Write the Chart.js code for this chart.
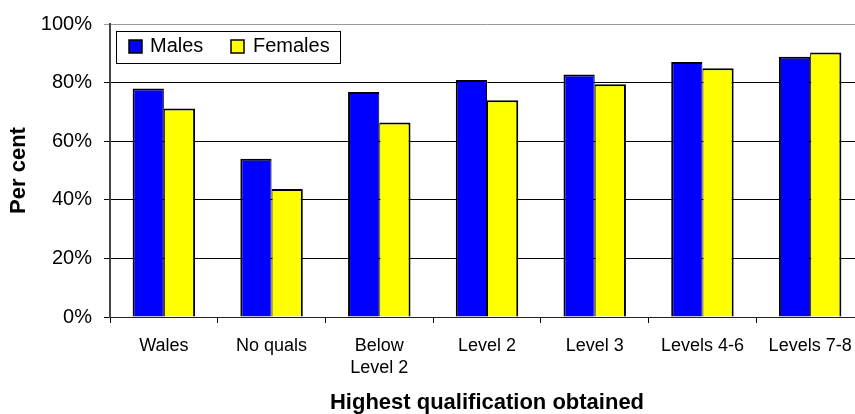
<!DOCTYPE html>
<html>
<head>
<meta charset="utf-8">
<script src="https://cdn.jsdelivr.net/npm/chart.js@4/dist/chart.umd.min.js"></script>
<style>
  html, body { margin: 0; padding: 0; background: #fff; overflow: hidden; }
  #wrap { width: 855px; height: 414px; overflow: hidden; position: relative; }
  canvas { display: block; }
</style>
</head>
<body>
<div id="wrap"><canvas id="c" width="866" height="414" style="width:866px;height:414px"></canvas></div>
<script>
const categories = ['Wales', 'No quals', ['Below', 'Level 2'], 'Level 2', 'Level 3', 'Levels 4-6', 'Levels 7-8'];
const males = [78.0, 54.0, 76.8, 80.9, 82.8, 87.0, 88.8];
const females = [71.2, 43.7, 66.4, 74.0, 79.4, 84.9, 90.3];
const yTicks = [0, 20, 40, 60, 80, 100];
const seriesNames = ['Males', 'Females'];
const xTitle = 'Highest qualification obtained';
const yTitle = 'Per cent';

const FONT = "'Liberation Sans', Arial, sans-serif";

const legendPlugin = {
  id: 'insideLegend',
  afterDraw(chart) {
    const ctx = chart.ctx;
    const a = chart.chartArea;
    const bx = a.left + 6, by = a.top + 7, bw = 225, bh = 33;
    ctx.save();
    ctx.fillStyle = '#fff';
    ctx.fillRect(bx, by, bw, bh);
    ctx.strokeStyle = '#000';
    ctx.lineWidth = 1;
    ctx.strokeRect(bx + 0.5, by + 0.5, bw - 1, bh - 1);
    const items = [
      { sx: bx + 13, tx: bx + 34 },
      { sx: bx + 115, tx: bx + 137 }
    ];
    chart.data.datasets.forEach((ds, i) => {
      const it = items[i];
      ctx.fillStyle = ds.backgroundColor;
      ctx.fillRect(it.sx, by + 9, 13, 13);
      ctx.lineWidth = 1.5;
      ctx.strokeStyle = '#000';
      ctx.strokeRect(it.sx, by + 9, 13, 13);
      ctx.fillStyle = '#000';
      ctx.font = '20px ' + FONT;
      ctx.textBaseline = 'alphabetic';
      ctx.textAlign = 'left';
      ctx.fillText(ds.label, it.tx, by + 21);
    });
    ctx.restore();
  }
};

new Chart(document.getElementById('c'), {
  type: 'bar',
  data: {
    labels: categories,
    datasets: [
      {
        label: seriesNames[0],
        data: males,
        backgroundColor: '#0000ff',
        borderColor: '#000',
        borderWidth: { top: 2, left: 2, right: 1, bottom: 0 },
        borderSkipped: false,
        categoryPercentage: 0.58,
        barPercentage: 1.0
      },
      {
        label: seriesNames[1],
        data: females,
        backgroundColor: '#ffff00',
        borderColor: '#000',
        borderWidth: { top: 2, left: 1, right: 2, bottom: 0 },
        borderSkipped: false,
        categoryPercentage: 0.58,
        barPercentage: 1.0
      }
    ]
  },
  options: {
    responsive: false,
    animation: false,
    devicePixelRatio: 1,
    layout: { padding: { top: 24, right: 2, bottom: 0, left: 0 } },
    plugins: {
      legend: { display: false },
      tooltip: { enabled: false },
      title: { display: false }
    },
    scales: {
      x: {
        offset: true,
        grid: {
          display: true,
          drawOnChartArea: false,
          drawTicks: true,
          tickLength: 6,
          color: '#000',
          offset: true
        },
        border: { display: true, color: '#222', width: 1 },
        ticks: {
          color: '#000',
          font: { family: FONT, size: 18, lineHeight: 1.22 },
          padding: 12,
          maxRotation: 0,
          autoSkip: false
        },
        title: {
          display: true,
          text: xTitle,
          color: '#000',
          font: { family: FONT, size: 22, weight: 'bold', lineHeight: 0.97 },
          padding: { top: 0, bottom: 0 }
        },
        afterFit(scale) { scale.height = 97; }
      },
      y: {
        min: 0,
        max: 100,
        afterBuildTicks(scale) { scale.ticks = yTicks.map(v => ({ value: v })); },
        grid: {
          color: (c) => (c.tick && c.tick.value === 100) ? '#999' : '#000',
          lineWidth: 1,
          tickLength: 6,
          drawTicks: true
        },
        border: { display: true, color: '#444', width: 2 },
        ticks: {
          color: '#000',
          font: { family: FONT, size: 20 },
          padding: 12,
          callback: (v) => v + '%'
        },
        title: {
          display: true,
          text: yTitle,
          color: '#000',
          font: { family: FONT, size: 22, weight: 'bold', lineHeight: 1.2 },
          padding: { top: 6, bottom: 0 }
        },
        afterFit(scale) { scale.width = 110; }
      }
    }
  },
  plugins: [legendPlugin]
});
</script>
</body>
</html>
